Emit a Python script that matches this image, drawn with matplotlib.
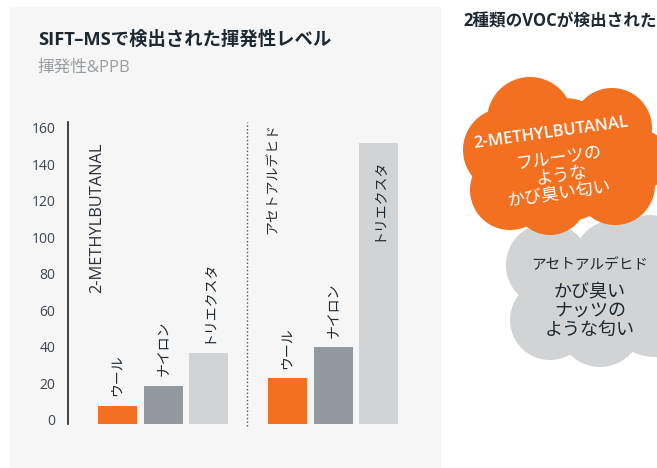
import matplotlib
matplotlib.use('Agg')
import matplotlib.pyplot as plt
from matplotlib.patches import Rectangle, Circle
import matplotlib.transforms as mtransforms

plt.rcParams['font.family'] = ['Open Sans', 'Noto Sans CJK JP', 'DejaVu Sans']

# ---------------- data ----------------
title = "SIFT–MSで検出された揮発性レベル"
subtitle = "揮発性&PPB"
side_title = "2種類のVOCが検出された"
compounds = ["2-METHYLBUTANAL", "アセトアルデヒド"]
fabrics = ["ウール", "ナイロン", "トリエクスタ"]
methylbutanal = [10, 21, 39]
acetaldehyde = [25, 42, 154]
yticks = [0, 20, 40, 60, 80, 100, 120, 140, 160]
fabric_colors = ["#f37021", "#939a9f", "#d1d3d4"]
cloud1_lines = ["2-METHYLBUTANAL", "フルーツの", "ような", "かび臭い匂い"]
cloud2_lines = ["アセトアルデヒド", "かび臭い", "ナッツの", "ような匂い"]

# ---------------- layout ----------------
W, H = 657, 468
DARK = "#1e2830"
fig = plt.figure(figsize=(W / 100, H / 100), dpi=100)
fig.patch.set_facecolor('white')
fig.patches.append(Rectangle((10 / W, 0), 431 / W, 461 / H, transform=fig.transFigure,
                             facecolor='#f6f6f6', edgecolor='none', zorder=-5))

ax_left, ax_right, y0_px, ytop_px = 68, 440, 424, 122
px_per_unit = 1.825
ax = fig.add_axes([ax_left / W, (H - y0_px) / H, (ax_right - ax_left) / W, (y0_px - ytop_px) / H])
ax.set_facecolor('none')
ax.set_xlim(0, ax_right - ax_left)
ax.set_ylim(0, (y0_px - ytop_px) / px_per_unit)

bar_w, bar_step, group_step, first_center = 39, 45.5, 170, 49.5
for g, vals in enumerate([methylbutanal, acetaldehyde]):
    for i, v in enumerate(vals):
        x = first_center + g * group_step + i * bar_step
        ax.bar(x, v, width=bar_w, color=fabric_colors[i], zorder=2)
        if v > 100:
            ax.annotate(fabrics[i], xy=(x, v), xytext=(0, -11), textcoords='offset points',
                        rotation=90, ha='center', va='top', fontsize=10, color=DARK, zorder=3)
        else:
            ax.annotate(fabrics[i], xy=(x, v), xytext=(0, 7), textcoords='offset points',
                        rotation=90, ha='center', va='bottom', fontsize=10, color=DARK, zorder=3)

# group labels
ax.text(29, 154, compounds[0], rotation=90, ha='center', va='top', fontsize=11.8, color='#2a3138')
ax.text(205, 165, compounds[1], rotation=90, ha='center', va='top', fontsize=10, color='#2a3138')

# separator
ax.axvline(179, ymin=-0.005, ymax=1, linestyle=(0, (1, 1.6)), color='#555', lw=1, clip_on=False)

ax.set_yticks(yticks)
ax.set_xticks([])
ax.tick_params(axis='y', length=0, pad=9, labelsize=10, labelcolor='#3c4650')
off = mtransforms.ScaledTranslation(0, 3 / 72, fig.dpi_scale_trans)
for lab in ax.get_yticklabels():
    lab.set_transform(lab.get_transform() + off)
for s in ['top', 'right', 'bottom']:
    ax.spines[s].set_visible(False)
ax.spines['left'].set_color('#222')
ax.spines['left'].set_linewidth(1.2)

# titles
fig.text(38 / W, 1 - 40 / H, title, fontsize=13.2, fontweight='bold', va='center', color=DARK)
fig.text(38 / W, 1 - 68 / H, subtitle, fontsize=12, va='center', color='#9a9ea2')
fig.text(463 / W, 1 - 21 / H, side_title, fontsize=12, fontweight='bold', va='center', color=DARK)

# ---------------- clouds overlay ----------------
ov = fig.add_axes([0, 0, 1, 1])
ov.set_xlim(0, W)
ov.set_ylim(H, 0)
ov.axis('off')
ov.set_facecolor('none')

gray_circles = [((548, 265), 42), ((550, 320), 40), ((600, 325), 42), ((615, 262), 42),
                ((655, 305), 52), ((595, 292), 55), ((650, 250), 35)]
for c, r in gray_circles:
    ov.add_patch(Circle(c, r, facecolor='#d1d3d4', edgecolor='none', zorder=1))

orange_circles = [((530, 120), 43), ((612, 128), 40), ((505, 150), 42), ((510, 190), 40),
                  ((550, 198), 37), ((615, 185), 40), ((563, 160), 62), ((640, 160), 30)]
for c, r in orange_circles:
    ov.add_patch(Circle(c, r, facecolor='#f37021', edgecolor='none', zorder=2))

rot = 8
ov.text(551, 133, cloud1_lines[0], rotation=rot, rotation_mode='anchor', ha='center', va='center',
        fontsize=12, fontweight='semibold', color='white', zorder=3)
ov.text(559, 158, cloud1_lines[1], rotation=rot, rotation_mode='anchor', ha='center', va='center',
        fontsize=12.5, color='white', zorder=3)
ov.text(562, 176, cloud1_lines[2], rotation=rot, rotation_mode='anchor', ha='center', va='center',
        fontsize=12.5, color='white', zorder=3)
ov.text(560, 195, cloud1_lines[3], rotation=rot, rotation_mode='anchor', ha='center', va='center',
        fontsize=12.5, color='white', zorder=3)

ov.text(590, 266, cloud2_lines[0], ha='center', va='center', fontsize=10.5, color=DARK, zorder=3)
ov.text(590, 292, cloud2_lines[1], ha='center', va='center', fontsize=13, color=DARK, zorder=3)
ov.text(590, 311, cloud2_lines[2], ha='center', va='center', fontsize=13, color=DARK, zorder=3)
ov.text(590, 330, cloud2_lines[3], ha='center', va='center', fontsize=13, color=DARK, zorder=3)

fig.savefig('out.png', dpi=100)
